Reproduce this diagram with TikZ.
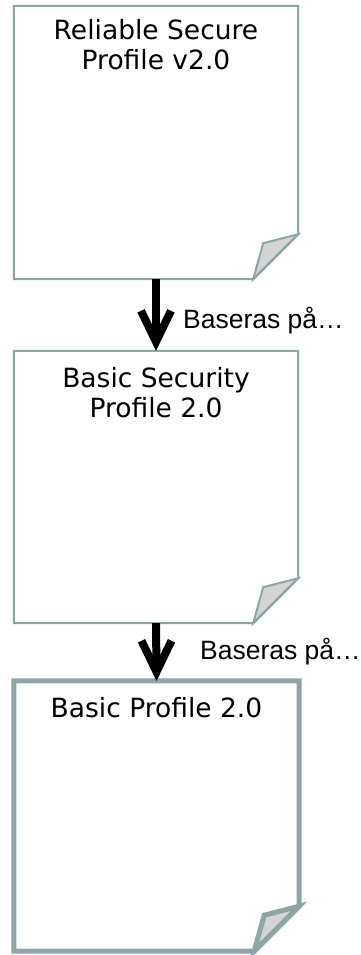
\documentclass[tikz,border=0pt]{standalone}
\usepackage{fontspec}
\setmainfont{DejaVu Sans}
\newfontfamily\labelfont{Liberation Sans}
\definecolor{docline}{RGB}{140,165,167}
\definecolor{foldfill}{RGB}{212,212,212}
\tikzset{
  docbox/.style={draw=none, inner sep=0pt, rectangle},
  docedge/.style={draw=docline, line width=2pt, line join=miter, fill=white},
  docedgethick/.style={draw=docline, line width=5pt, line join=miter, fill=white},
  doctext/.style={anchor=north, inner sep=0pt, align=center, font=\fontsize{26.5}{30}\selectfont},
  baslabel/.style={anchor=base west, inner sep=0pt, font=\labelfont\fontsize{26.5}{30}\selectfont},
  shaft/.style={line width=8pt, black},
  barb/.style={line width=8pt, black, line join=miter, miter limit=20}
}
\newcommand\docoutline[2]{%
  \path[#2] (#1.north west) -- (#1.north east) -- ([yshift=45pt]#1.south east)
    -- ([xshift=-45pt]#1.south east) -- (#1.south west) -- cycle;
  \path[#2, fill=foldfill] ([yshift=45pt]#1.south east) -- ([xshift=-35pt,yshift=36pt]#1.south east)
    -- ([xshift=-45pt]#1.south east) -- cycle;
}
\begin{document}
\begin{tikzpicture}[x=1pt,y=-1pt]
\useasboundingbox (0,0) rectangle (361,955);
% boxes
\node[docbox, minimum width=284pt, minimum height=273pt] (b1) at (156,142.5) {};
\node[docbox, minimum width=284pt, minimum height=272pt] (b2) at (156,487) {};
\node[docbox, minimum width=285pt, minimum height=270pt] (b3) at (156.5,816) {};
\docoutline{b1}{docedge}
\docoutline{b2}{docedge}
\docoutline{b3}{docedgethick}
% texts
\node[doctext] (t1) at ([yshift=-13pt]b1.north) {Reliable Secure\\Profile v2.0};
\node[doctext] (t2) at ([yshift=-16pt]b2.north) {Basic Security\\Profile 2.0};
\node[doctext] (t3) at ([yshift=-16pt]b3.north) {Basic Profile 2.0};
% arrows
\draw[shaft] (b1.south) -- ([yshift=9pt]b2.north);
\draw[barb] ([xshift=-15pt,yshift=40pt]b2.north) -- ([yshift=9pt]b2.north) -- ([xshift=15pt,yshift=40pt]b2.north);
\draw[shaft] (b2.south) -- ([yshift=9pt]b3.north);
\draw[barb] ([xshift=-15pt,yshift=40pt]b3.north) -- ([yshift=9pt]b3.north) -- ([xshift=15pt,yshift=40pt]b3.north);
% labels
\node[baslabel] (l1) at (183,328) {Baseras på…};
\node[baslabel] (l2) at (200,659) {Baseras på…};
\end{tikzpicture}
\end{document}
